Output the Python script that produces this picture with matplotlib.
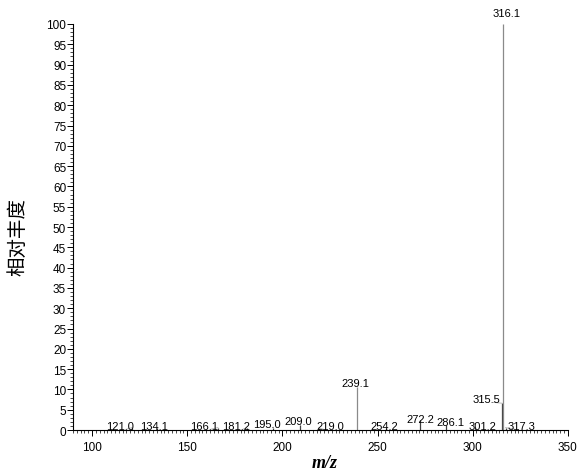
import matplotlib
matplotlib.use('Agg')
import matplotlib.pyplot as plt
from matplotlib.ticker import MultipleLocator

# peaks
mz = [121.0, 134.1, 166.1, 181.2, 195.0, 209.0, 219.0, 239.1,
      254.2, 272.2, 286.1, 301.2, 315.5, 316.1, 317.3]
intensity = [0.6, 0.5, 0.6, 0.5, 0.6, 1.2, 0.5, 10.5,
             0.4, 2.5, 1.2, 0.8, 6.6, 100.0, 0.6]
peak_labels = ['121.0', '134.1', '166.1', '181.2', '195.0', '209.0', '219.0', '239.1',
               '254.2', '272.2', '286.1', '301.2', '315.5', '316.1', '317.3']

# where each label sits (data coords), layout only
label_pos = [(114.6, 1.0), (132.6, 1.0), (158.9, 1.0), (175.8, 1.0), (191.7, 1.5),
             (208.3, 2.2), (225.0, 1.0), (238.5, 11.6), (253.6, 1.0), (272.4, 2.7),
             (288.5, 2.0), (305.2, 1.0), (307.3, 7.6), (317.7, 102.6), (325.5, 1.0)]

plt.rcParams['font.family'] = ['Liberation Sans', 'DejaVu Sans']

fig = plt.figure(figsize=(5.8, 4.77), dpi=100)
ax = fig.add_axes([0.126, 0.0964, 0.853, 0.8512])

for x, y in zip(mz, intensity):
    col = '#8a8a8a' if y > 9 else '#404040'
    ax.vlines(x, 0, y, color=col, linewidth=0.9)

for x, y, lab, (tx, ty) in zip(mz, intensity, peak_labels, label_pos):
    ax.text(tx, ty, lab, fontsize=8, ha='center', va='center', color='black')
    if abs(tx - x) > 2:
        ax.plot([x, tx + (3.5 if tx < x else -3.5)], [y, ty - 0.8],
                color='#b0b0b0', linewidth=0.6)

ax.set_xlim(90, 350)
ax.set_ylim(0, 100)
ax.spines['top'].set_visible(False)
ax.spines['right'].set_visible(False)
ax.spines['left'].set_linewidth(0.8)
ax.spines['bottom'].set_linewidth(0.8)
ax.spines['left'].set_bounds(0, 100)

ax.xaxis.set_major_locator(MultipleLocator(50))
ax.xaxis.set_minor_locator(MultipleLocator(2))
ax.yaxis.set_major_locator(MultipleLocator(5))
ax.yaxis.set_minor_locator(MultipleLocator(1))
ax.tick_params(which='major', direction='out', length=4, width=0.7, labelsize=8.5, pad=1)
ax.tick_params(which='minor', direction='out', length=2, width=0.5)
ax.tick_params(axis='x', pad=4)

ax.set_xlabel('m/z', fontsize=13, fontstyle='italic', fontweight='bold',
              family=['Liberation Serif', 'DejaVu Serif'])
ax.xaxis.set_label_coords(0.509, -0.059)
ax.set_ylabel('相对丰度', fontsize=14, family=['Noto Sans CJK SC', 'DejaVu Sans'])
ax.yaxis.set_label_coords(-0.090, 0.478)

fig.savefig('out.png', dpi=100)
